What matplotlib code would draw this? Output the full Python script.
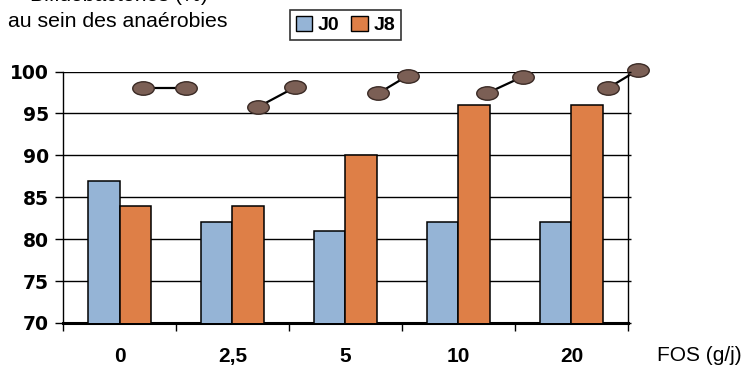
import matplotlib.pyplot as plt
import numpy as np
from matplotlib.path import Path
from matplotlib.transforms import Affine2D
from matplotlib.patches import Patch

plt.rcParams['font.family'] = ['Liberation Sans', 'DejaVu Sans']

# Doses de FOS et pourcentages de bifidobactéries
doses = ['0', '2,5', '5', '10', '20']
j0 = [87, 82, 81, 82, 82]
j8 = [84, 84, 90, 96, 96]

# Petits segments décoratifs au-dessus des barres (début -> fin)
dot_start = [98.0, 95.8, 97.4, 97.4, 98.0]
dot_end = [98.0, 98.1, 99.5, 99.4, 100.2]
dot_dx_start = [0.21, 0.23, 0.29, 0.25, 0.32]
dot_dx_end = [0.59, 0.55, 0.55, 0.57, 0.59]

blue = '#95b4d6'
orange = '#de7f47'
brown = '#7b5f55'

fig = plt.figure(figsize=(7.43, 3.67), dpi=100)
ax = fig.add_axes([0.0848, 0.12, 0.7604, 0.685])

x = np.arange(len(doses))
w = 0.28
ax.bar(x - w / 2, j0, w, bottom=0, color=blue, edgecolor='black', linewidth=1.1, zorder=3)
ax.bar(x + w / 2, j8, w, bottom=0, color=orange, edgecolor='black', linewidth=1.1, zorder=3)

# marqueur elliptique
ellipse = Path.unit_circle().transformed(Affine2D().scale(1.6, 1.0))
for i in range(len(doses)):
    ax.plot([x[i] + dot_dx_start[i], x[i] + dot_dx_end[i]], [dot_start[i], dot_end[i]],
            color='black', linewidth=1.6, marker=ellipse, markersize=15.5,
            markerfacecolor=brown, markeredgecolor='#3a2a25', markeredgewidth=1.0,
            clip_on=False, zorder=5)

ax.set_ylim(70, 100)
ax.set_xlim(-0.5, len(doses) - 0.5)
ax.set_yticks(np.arange(70, 101, 5))
ax.yaxis.grid(True, color='black', linewidth=1.0, zorder=0)
ax.set_axisbelow(True)

ax.set_xticks(np.arange(-0.5, len(doses), 1.0))
ax.set_xticklabels([])
ax.set_xticks(x, minor=True)
ax.set_xticklabels(doses, minor=True, fontsize=15, fontweight='bold')
ax.tick_params(axis='x', which='minor', length=0, pad=17)
ax.tick_params(axis='x', which='major', length=6, width=1.0, direction='out')
ax.tick_params(axis='y', length=6, width=1.0, direction='out', pad=4)
for lbl in ax.get_yticklabels():
    lbl.set_fontweight('bold')
    lbl.set_fontsize(13.5)
    lbl.set_fontfamily('DejaVu Sans')

ax.spines['top'].set_visible(False)
ax.spines['left'].set_linewidth(1.0)
ax.spines['right'].set_linewidth(1.0)
ax.spines['bottom'].set_linewidth(2.2)

# petites graduations sur l'axe de droite
ax2 = ax.twinx()
ax2.set_ylim(ax.get_ylim())
ax2.set_yticks(ax.get_yticks())
ax2.tick_params(axis='y', length=2.5, width=1.0, direction='out', labelright=False)
for s in ax2.spines.values():
    s.set_visible(False)

fig.text(0.884, 0.03, 'FOS (g/j)', fontsize=15, ha='left', va='center')
fig.text(0.16, 1.012, 'Bifidobactéries (%)', fontsize=15.3, ha='center', va='center')
fig.text(0.011, 0.942, 'au sein des anaérobies', fontsize=15.3, ha='left', va='center')

handles = [Patch(facecolor=blue, edgecolor='black', label='J0'),
           Patch(facecolor=orange, edgecolor='black', label='J8')]
leg = fig.legend(handles=handles, loc='center', bbox_to_anchor=(0.465, 0.932), ncol=2,
                 frameon=True, fancybox=False, edgecolor='black', handlelength=0.85,
                 handleheight=0.85, handletextpad=0.3, columnspacing=0.6,
                 borderpad=0.3, prop={'weight': 'bold', 'size': 14})
leg.get_frame().set_linewidth(1.2)

fig.savefig('out.png', dpi=100)
